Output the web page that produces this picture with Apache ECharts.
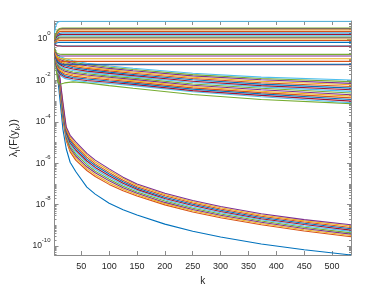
<!DOCTYPE html>
<html><head><meta charset="utf-8">
<script src="https://cdn.jsdelivr.net/npm/echarts@6/dist/echarts.min.js"></script>
<style>html,body{margin:0;padding:0;background:#fff}#c{width:388px;height:291px}</style>
</head><body><div id="c"></div>
<script>
// MATLAB default colour order
const palette = ['#0072BD','#D95319','#EDB120','#7E2F8E','#77AC30','#4DBEEE','#A2142F'];
const xTicks = [50,100,150,200,250,300,350,400,450,500];
const yMajorTicks = [1e-10,1e-8,1e-6,1e-4,1e-2,1];
const xMin = 2, xMax = 534;
const yMinExp = -10.43, yMaxExp = 0.87;

// values are read as log10(lambda) (decades on the log axis)
// smallest eigenvalue + steep group
const kSteep = [2, 5, 8, 12, 17, 23, 30, 40, 60, 75, 100, 125, 150, 200, 250, 300, 373, 450, 534];
const smallestLog = [-0.5,-1.1,-1.95,-3.0,-4.35,-5.3,-5.95,-6.4,-7.15,-7.49,-7.93,-8.24,-8.5,-8.94,-9.28,-9.56,-9.9,-10.18,-10.43];
const steepBandLog = [
  [-0.55,-1.00,-1.60,-2.60,-3.90,-4.90,-5.45,-5.85,-6.35,-6.64,-7.02,-7.33,-7.58,-8.01,-8.35,-8.63,-8.97,-9.27,-9.55],
  [-0.54,-0.98,-1.56,-2.53,-3.81,-4.83,-5.36,-5.75,-6.26,-6.55,-6.94,-7.26,-7.52,-7.95,-8.29,-8.57,-8.91,-9.21,-9.49],
  [-0.53,-0.96,-1.51,-2.46,-3.71,-4.76,-5.27,-5.65,-6.17,-6.46,-6.85,-7.18,-7.45,-7.89,-8.23,-8.51,-8.85,-9.15,-9.42],
  [-0.52,-0.93,-1.47,-2.38,-3.62,-4.68,-5.18,-5.56,-6.07,-6.38,-6.77,-7.11,-7.39,-7.82,-8.17,-8.45,-8.79,-9.09,-9.36],
  [-0.51,-0.91,-1.42,-2.31,-3.52,-4.61,-5.09,-5.46,-5.98,-6.29,-6.69,-7.04,-7.32,-7.76,-8.11,-8.39,-8.73,-9.03,-9.29],
  [-0.49,-0.89,-1.38,-2.24,-3.43,-4.54,-5.01,-5.36,-5.89,-6.20,-6.60,-6.96,-7.26,-7.70,-8.04,-8.33,-8.68,-8.96,-9.23],
  [-0.48,-0.87,-1.33,-2.17,-3.34,-4.47,-4.92,-5.26,-5.80,-6.11,-6.52,-6.89,-7.19,-7.64,-7.98,-8.27,-8.62,-8.90,-9.16],
  [-0.47,-0.84,-1.29,-2.09,-3.24,-4.39,-4.83,-5.17,-5.70,-6.03,-6.44,-6.82,-7.13,-7.57,-7.92,-8.21,-8.56,-8.84,-9.10],
  [-0.46,-0.82,-1.24,-2.02,-3.15,-4.32,-4.74,-5.07,-5.61,-5.94,-6.35,-6.74,-7.06,-7.51,-7.86,-8.15,-8.50,-8.78,-9.03],
  [-0.45,-0.80,-1.20,-1.95,-3.05,-4.25,-4.65,-4.97,-5.52,-5.85,-6.27,-6.67,-7.00,-7.45,-7.80,-8.09,-8.44,-8.72,-8.97]
];
// slowly decaying group (first row = the green line at its bottom)
const kDecay = [2, 5, 8, 12, 20, 35, 60, 100, 143, 250, 373, 534];
const decayBandLog = [
  [-0.90,-1.50,-2.10,-2.18,-2.12,-2.07,-2.12,-2.25,-2.38,-2.68,-2.92,-3.12],
  [-0.80,-1.30,-1.60,-1.75,-1.90,-1.99,-2.06,-2.15,-2.25,-2.55,-2.79,-3.08],
  [-0.78,-1.26,-1.54,-1.69,-1.83,-1.92,-2.00,-2.09,-2.19,-2.49,-2.72,-3.00],
  [-0.76,-1.21,-1.49,-1.62,-1.76,-1.86,-1.93,-2.03,-2.13,-2.42,-2.65,-2.92],
  [-0.74,-1.17,-1.43,-1.56,-1.69,-1.79,-1.87,-1.97,-2.07,-2.36,-2.59,-2.84],
  [-0.72,-1.13,-1.37,-1.50,-1.62,-1.72,-1.80,-1.91,-2.01,-2.29,-2.52,-2.76],
  [-0.70,-1.09,-1.31,-1.43,-1.55,-1.65,-1.74,-1.85,-1.95,-2.23,-2.45,-2.69],
  [-0.67,-1.04,-1.26,-1.37,-1.48,-1.59,-1.68,-1.79,-1.89,-2.17,-2.38,-2.61],
  [-0.65,-1.00,-1.20,-1.30,-1.42,-1.52,-1.61,-1.73,-1.83,-2.10,-2.31,-2.53],
  [-0.63,-0.96,-1.14,-1.24,-1.35,-1.45,-1.55,-1.66,-1.77,-2.04,-2.25,-2.45],
  [-0.61,-0.91,-1.09,-1.18,-1.28,-1.39,-1.48,-1.60,-1.71,-1.97,-2.18,-2.37],
  [-0.59,-0.87,-1.03,-1.11,-1.21,-1.32,-1.42,-1.54,-1.65,-1.91,-2.11,-2.29],
  [-0.56,-0.83,-0.97,-1.05,-1.14,-1.25,-1.36,-1.48,-1.59,-1.85,-2.04,-2.21],
  [-0.54,-0.79,-0.91,-0.99,-1.07,-1.18,-1.29,-1.42,-1.53,-1.78,-1.97,-2.14],
  [-0.52,-0.74,-0.86,-0.92,-1.00,-1.12,-1.23,-1.36,-1.47,-1.72,-1.91,-2.06],
  [-0.50,-0.70,-0.80,-0.86,-0.93,-1.05,-1.17,-1.30,-1.41,-1.65,-1.84,-1.98]
];
// flat groups
const kFlat = [2, 4, 7, 11, 16, 534];
const midFlatLog = [
  [-0.60,-0.85,-1.10,-1.20,-1.24,-1.24],
  [-0.60,-0.84,-1.08,-1.18,-1.22,-1.22],
  [-0.55,-0.78,-0.98,-1.06,-1.08,-1.08],
  [-0.52,-0.72,-0.88,-0.94,-0.95,-0.95],
  [-0.48,-0.65,-0.77,-0.81,-0.82,-0.82],
  [-0.45,-0.60,-0.70,-0.73,-0.74,-0.74]
];
const topFlatLog = [
  [-0.25,-0.30,-0.32,-0.32,-0.33,-0.33],
  [-0.26,-0.31,-0.34,-0.34,-0.35,-0.35],
  [-0.20,-0.20,-0.18,-0.16,-0.16,-0.16],
  [-0.17,-0.14,-0.10,-0.07,-0.07,-0.07],
  [-0.15,-0.10,-0.04, 0.00, 0.00, 0.00],
  [-0.13,-0.06, 0.01, 0.06, 0.06, 0.06],
  [-0.12,-0.04, 0.05, 0.10, 0.10, 0.10],
  [-0.10, 0.00, 0.10, 0.16, 0.16, 0.16],
  [-0.08, 0.03, 0.15, 0.21, 0.22, 0.22],
  [-0.06, 0.07, 0.21, 0.28, 0.29, 0.29],
  [-0.04, 0.12, 0.27, 0.36, 0.37, 0.37],
  [-0.02, 0.17, 0.34, 0.44, 0.45, 0.45],
  [ 0.00, 0.20, 0.39, 0.49, 0.50, 0.50],
  [ 0.01, 0.22, 0.41, 0.51, 0.53, 0.53],
  [ 0.30, 0.60, 0.80, 0.85, 0.86, 0.86]
];

const rows = [];
rows.push([kSteep, smallestLog]);
steepBandLog.forEach(r => rows.push([kSteep, r]));
decayBandLog.forEach(r => rows.push([kDecay, r]));
midFlatLog.forEach(r => rows.push([kFlat, r]));
topFlatLog.forEach(r => rows.push([kFlat, r]));

const series = rows.map(([ks, r], i) => ({
  type: 'line', xAxisIndex: 0, yAxisIndex: 0,
  data: ks.map((k, j) => [k, Math.pow(10, r[j])]),
  showSymbol: false, symbol: 'none', smooth: false,
  lineStyle: { width: 1.1, color: palette[i % 7] },
  itemStyle: { color: palette[i % 7] },
  emphasis: { disabled: true }, silent: true
}));

const yMinorTicks = [];
for (let e = -11; e <= 0; e++) {
  for (let m = 1; m <= 9; m++) {
    const v = m * Math.pow(10, e);
    if (v >= Math.pow(10, yMinExp) && v <= Math.pow(10, yMaxExp) && !(m === 1 && e % 2 === 0)) yMinorTicks.push(v);
  }
}

const axisColor = '#8c8c8c';
const textColor = '#262626';
const font = 'Liberation Sans, Arial, Helvetica, sans-serif';
const yMin = Math.pow(10, yMinExp), yMax = Math.pow(10, yMaxExp);

function yAxisBase(pos, ticks, len, showLine) {
  return {
    type: 'log', logBase: 10, position: pos, min: yMin, max: yMax,
    axisLine: { show: showLine, onZero: false, lineStyle: { color: axisColor, width: 1 } },
    axisTick: { show: true, inside: true, length: len, customValues: ticks, lineStyle: { color: axisColor, width: 1 } },
    axisLabel: { show: false },
    splitLine: { show: false }, minorTick: { show: false }
  };
}

const yMain = yAxisBase('left', yMajorTicks, 4, true);
yMain.axisLabel = {
  show: true, customValues: yMajorTicks, margin: 4,
  formatter: v => '{b|10}{s|' + Math.round(Math.log10(v)) + '}',
  rich: {
    b: { fontSize: 8.5, fontFamily: font, color: textColor, lineHeight: 18, verticalAlign: 'middle' },
    s: { fontSize: 6, fontFamily: font, color: textColor, lineHeight: 18, verticalAlign: 'top' }
  }
};
yMain.name = '{n|λ}{sb|i}{n|(F(y}{sb|k}{n|))}';
yMain.nameLocation = 'middle';
yMain.nameGap = 30;
yMain.nameTextStyle = {
  rich: {
    n: { fontSize: 11, fontFamily: font, color: textColor, lineHeight: 16, verticalAlign: 'middle' },
    sb: { fontSize: 7.5, fontFamily: font, color: textColor, lineHeight: 16, verticalAlign: 'bottom' }
  }
};

const option = {
  animation: false,
  backgroundColor: '#ffffff',
  grid: { left: 51, top: 21, width: 300, height: 237, containLabel: false },
  xAxis: [
    {
      type: 'value', min: xMin, max: xMax, position: 'bottom',
      axisLine: { onZero: false, lineStyle: { color: axisColor, width: 1 } },
      axisTick: { inside: true, length: 4, customValues: xTicks, lineStyle: { color: axisColor } },
      axisLabel: { customValues: xTicks, fontSize: 9, fontFamily: font, color: textColor, margin: 7 },
      splitLine: { show: false },
      name: 'k', nameLocation: 'middle', nameGap: 21,
      nameTextStyle: { fontSize: 10, fontFamily: font, color: textColor }
    },
    {
      type: 'value', min: xMin, max: xMax, position: 'top',
      axisLine: { onZero: false, lineStyle: { color: axisColor, width: 1 } },
      axisTick: { inside: true, length: 4, customValues: xTicks, lineStyle: { color: axisColor } },
      axisLabel: { show: false }, splitLine: { show: false }
    }
  ],
  yAxis: [
    yMain,
    yAxisBase('left', yMinorTicks, 2, false),
    yAxisBase('right', yMajorTicks, 4, true),
    yAxisBase('right', yMinorTicks, 2, false)
  ],
  series: series
};

const chart = echarts.init(document.getElementById('c'), null, { renderer: 'canvas' });
chart.setOption(option);
</script>
</body></html>
